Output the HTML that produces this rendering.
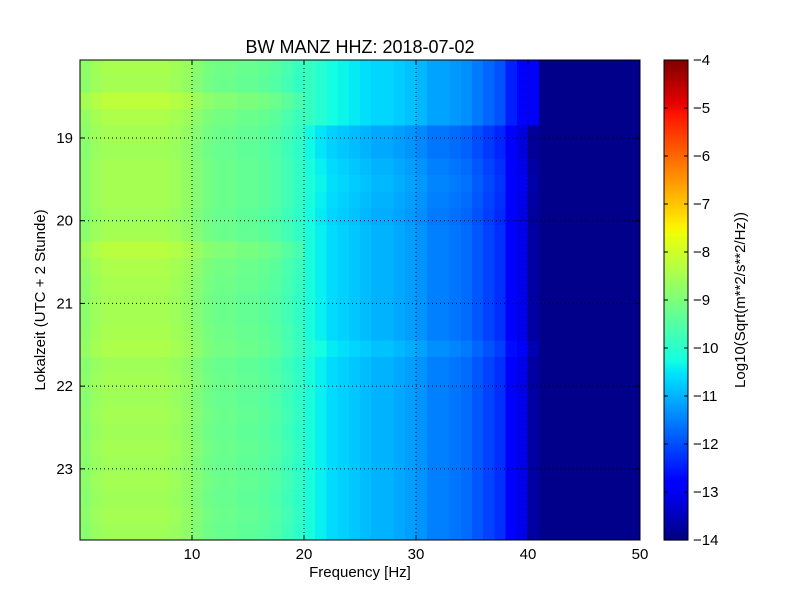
<!DOCTYPE html>
<html><head><meta charset="utf-8"><style>
body{margin:0;background:#fff;font-family:"Liberation Sans",sans-serif}
svg text{font-family:"Liberation Sans",sans-serif}
</style></head><body>
<svg id="fig" width="800" height="600" viewBox="0 0 800 600">
<rect width="800" height="600" fill="#fff"/>
<text x="360" y="53" font-size="18" text-anchor="middle">BW MANZ HHZ: 2018-07-02</text>
<g id="cells" shape-rendering="crispEdges"></g>
<g id="grid"></g>
<rect x="80" y="60" width="560" height="480" fill="none" stroke="#000"/>
<g id="axes"></g>
<text x="360" y="577" font-size="15" text-anchor="middle">Frequency [Hz]</text>
<text transform="translate(45,300) rotate(-90)" font-size="15" text-anchor="middle">Lokalzeit (UTC + 2 Stunde)</text>
<g id="cbar"></g>
<text transform="translate(745,300) rotate(-90)" font-size="15" text-anchor="middle">Log10(Sqrt(m**2/s**2/Hz))</text>
</svg>
<script>
// data
const freqBins = [0,1,2,3,4,5,6,7,8,9,10,11,12,13,14,15,16,17,18,19,20,21,22,23,24,25,26,27,28,29,30,31,32,33,34,35,36,37,38,39,40,41,42,43,44,45,46,47,48,49];
const freqLevel = [-8.8,-8.6,-8.5,-8.5,-8.5,-8.5,-8.5,-8.5,-8.6,-8.7,-8.9,-9.1,-9.2,-9.2,-9.3,-9.3,-9.4,-9.5,-9.7,-9.9,-10.2,-10.4,-10.6,-10.7,-10.8,-10.9,-11.0,-11.0,-11.1,-11.2,-11.3,-11.5,-11.5,-11.6,-11.7,-11.9,-12.1,-12.3,-12.8,-13.1,-13.7,-13.9,-13.9,-13.9,-13.9,-13.9,-13.9,-13.9,-13.9,-13.9];
const timeStart = [18.05,18.25,18.45,18.65,18.85,19.05,19.25,19.45,19.65,19.85,20.05,20.25,20.45,20.65,20.85,21.05,21.25,21.45,21.65,21.85,22.05,22.25,22.45,22.65,22.85,23.05,23.25,23.45,23.65];
const lowOffset = [0.05,0.0,0.3,0.1,0.0,-0.05,0.0,0.0,0.0,-0.05,0.0,0.25,0.1,0.05,0.0,0.0,0.05,0.1,-0.05,0.0,-0.05,0.0,-0.05,0.0,-0.05,0.0,-0.05,0.0,-0.05];
const highOffset = [0.35,0.35,0.35,0.35,-0.1,-0.1,0.0,0.05,0.0,-0.05,0.0,0.0,0.0,0.0,0.0,0.0,0.0,0.15,0.0,0.0,0.0,0.0,0.0,0.0,0.0,0.0,0.0,0.0,0.0];
const xTicks = [10,20,30,40,50];
const yTicks = [19,20,21,22,23];
const cTicks = [-4,-5,-6,-7,-8,-9,-10,-11,-12,-13,-14];
const xMin=0,xMax=50,yMin=18.057,yMax=23.86,cMin=-14,cMax=-4;
const L=80,R=640,T=60,B=540;
const sx=v=>L+(v-xMin)/(xMax-xMin)*(R-L);
const sy=v=>T+(v-yMin)/(yMax-yMin)*(B-T);
const sc=v=>B-(v-cMin)/(cMax-cMin)*(B-T);
function interp(t,pts){for(let i=1;i<pts.length;i++){if(t<=pts[i][0]){const a=pts[i-1],b=pts[i];return a[1]+(b[1]-a[1])*(t-a[0])/(b[0]-a[0]);}}return pts[pts.length-1][1];}
const JR=[[0,0],[0.35,0],[0.66,1],[0.89,1],[1,0.5]];
const JG=[[0,0],[0.125,0],[0.375,1],[0.64,1],[0.91,0],[1,0]];
const JB=[[0,0.5],[0.11,1],[0.34,1],[0.65,0],[1,0]];
function jet(t){t=Math.max(0,Math.min(1,t));const c=x=>Math.round(255*x);
return `rgb(${c(interp(t,JR))},${c(interp(t,JG))},${c(interp(t,JB))})`;}
const NS="http://www.w3.org/2000/svg";
function mk(tag,attrs,parent){const e=document.createElementNS(NS,tag);for(const k in attrs)e.setAttribute(k,attrs[k]);parent.appendChild(e);return e;}
const cells=document.getElementById('cells');
for(let r=0;r<timeStart.length;r++){
  const y0=Math.max(sy(timeStart[r]),T), y1=r+1<timeStart.length?sy(timeStart[r+1]):B;
  for(let i=0;i<freqBins.length;i++){
    let v=freqLevel[i]+(freqBins[i]<20?lowOffset[r]:(freqBins[i]<41?highOffset[r]:0));
    if(r<4&&freqBins[i]===40) v=-12.9;
    const x0=sx(freqBins[i]), x1=sx(freqBins[i]+1);
    const el=mk('rect',{x:x0,y:y0,width:x1-x0+0.5,height:y1-y0+0.5,fill:jet((v-cMin)/(cMax-cMin))},cells);
    
    
  }
}
const grid=document.getElementById('grid'), axes=document.getElementById('axes');
xTicks.forEach(t=>{const x=sx(t);
  if(t<xMax){const g=mk('line',{x1:x,x2:x,y1:T,y2:B,stroke:'#000','stroke-dasharray':'1,3'},grid);
  }
  mk('line',{x1:x,x2:x,y1:B,y2:B-5,stroke:'#000'},axes);mk('line',{x1:x,x2:x,y1:T,y2:T+5,stroke:'#000'},axes);
  const tx=mk('text',{x:x,y:B+19,'font-size':15,'text-anchor':'middle'},axes);tx.textContent=t;
  });
yTicks.forEach(t=>{const y=sy(t);
  const g=mk('line',{x1:L,x2:R,y1:y,y2:y,stroke:'#000','stroke-dasharray':'1,3'},grid);
  
  mk('line',{x1:L,x2:L+5,y1:y,y2:y,stroke:'#000'},axes);mk('line',{x1:R,x2:R-5,y1:y,y2:y,stroke:'#000'},axes);
  const tx=mk('text',{x:L-7,y:y+5,'font-size':15,'text-anchor':'end'},axes);tx.textContent=t;
  });
const cbar=document.getElementById('cbar');
for(let i=0;i<240;i++){const v=cMin+(i+0.5)/240*(cMax-cMin);const y=sc(cMin+(i+1)/240*(cMax-cMin));
  mk('rect',{x:664,y:y,width:24,height:(B-T)/240+0.6,fill:jet((v-cMin)/(cMax-cMin))},cbar);}
mk('rect',{x:664,y:T,width:24,height:B-T,fill:'none',stroke:'#000'},cbar);
cTicks.forEach(t=>{const y=sc(t);
  mk('line',{x1:664,x2:668,y1:y,y2:y,stroke:'#000'},cbar);mk('line',{x1:688,x2:684,y1:y,y2:y,stroke:'#000'},cbar);
  const tx=mk('text',{x:693,y:y+5,'font-size':15},cbar);tx.textContent='\u2212'+Math.abs(t);
  });
</script>
</body></html>
